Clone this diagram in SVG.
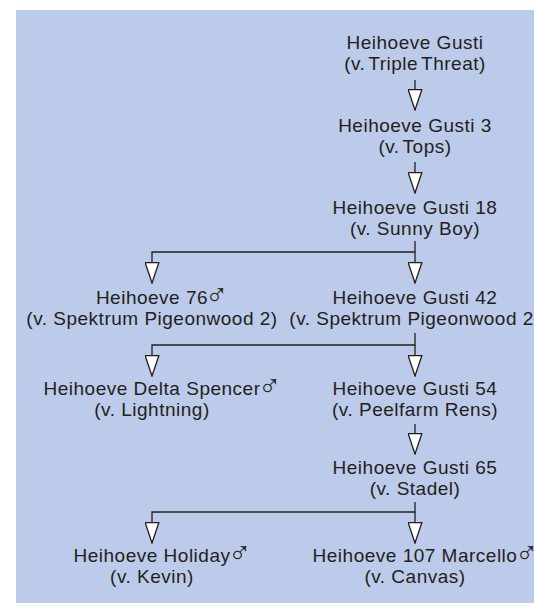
<svg xmlns="http://www.w3.org/2000/svg" width="534" height="606" viewBox="0 0 534 606">
<style>
.t{font-family:"Liberation Sans",Arial,sans-serif;font-size:19px;letter-spacing:0.5px;fill:#231f20;text-anchor:middle}
.s{font-family:"Liberation Sans","DejaVu Sans",sans-serif;font-size:31px;fill:#231f20}
.c{fill:none;stroke:#231f20;stroke-width:1.3}
.tight{word-spacing:-2.5px}
</style>
<defs>
<marker id="tri" viewBox="0 0 22 15" refX="21" refY="7.5" markerWidth="22" markerHeight="15" markerUnits="userSpaceOnUse" orient="auto">
<path d="M0.7,0.7 L21,7.5 L0.7,14.3 Z" fill="#ffffff" stroke="#231f20" stroke-width="1.3" stroke-linejoin="miter"/>
</marker>
</defs>
<rect x="16" y="10" width="518" height="593" fill="#bccbe9"/>
<g id="connectors">
<path class="c" d="M415,80 V110" marker-end="url(#tri)"/>
<path class="c" d="M415,162 V193" marker-end="url(#tri)"/>
<path class="c" d="M415,241 V252 H152 V283" marker-end="url(#tri)"/>
<path class="c" d="M415,252 V283" marker-end="url(#tri)"/>
<path class="c" d="M415,333 V345 H152 V376" marker-end="url(#tri)"/>
<path class="c" d="M415,345 V376" marker-end="url(#tri)"/>
<path class="c" d="M415,424 V454" marker-end="url(#tri)"/>
<path class="c" d="M415,502 V512 H152 V543" marker-end="url(#tri)"/>
<path class="c" d="M415,512 V543" marker-end="url(#tri)"/>
</g>
<g id="gusti">
<text class="t" x="415" y="49">Heihoeve Gusti</text>
<text class="t tight" x="415" y="70">(v. Triple Threat)</text>
</g>
<g id="gusti3">
<text class="t" x="415" y="132">Heihoeve Gusti 3</text>
<text class="t tight" x="415" y="153">(v. Tops)</text>
</g>
<g id="gusti18">
<text class="t" x="415" y="214">Heihoeve Gusti 18</text>
<text class="t" x="415" y="235">(v. Sunny Boy)</text>
</g>
<g id="h76">
<text class="t" x="152" y="304">Heihoeve 76</text>
<text class="s" x="205" y="305">♂</text>
<text class="t" x="152" y="325">(v. Spektrum Pigeonwood 2)</text>
</g>
<g id="gusti42">
<text class="t" x="415" y="304">Heihoeve Gusti 42</text>
<text class="t" x="415" y="325">(v. Spektrum Pigeonwood 2)</text>
</g>
<g id="delta">
<text class="t" x="152" y="395">Heihoeve Delta Spencer</text>
<text class="s" x="258" y="396">♂</text>
<text class="t" x="152" y="416">(v. Lightning)</text>
</g>
<g id="gusti54">
<text class="t" x="415" y="395">Heihoeve Gusti 54</text>
<text class="t" x="415" y="416">(v. Peelfarm Rens)</text>
</g>
<g id="gusti65">
<text class="t" x="415" y="474">Heihoeve Gusti 65</text>
<text class="t" x="415" y="495">(v. Stadel)</text>
</g>
<g id="holiday">
<text class="t" x="152" y="562">Heihoeve Holiday</text>
<text class="s" x="228" y="563">♂</text>
<text class="t" x="152" y="583">(v. Kevin)</text>
</g>
<g id="h107">
<text class="t" x="415" y="562">Heihoeve 107 Marcello</text>
<text class="s" x="515" y="563">♂</text>
<text class="t" x="415" y="583">(v. Canvas)</text>
</g>
</svg>
